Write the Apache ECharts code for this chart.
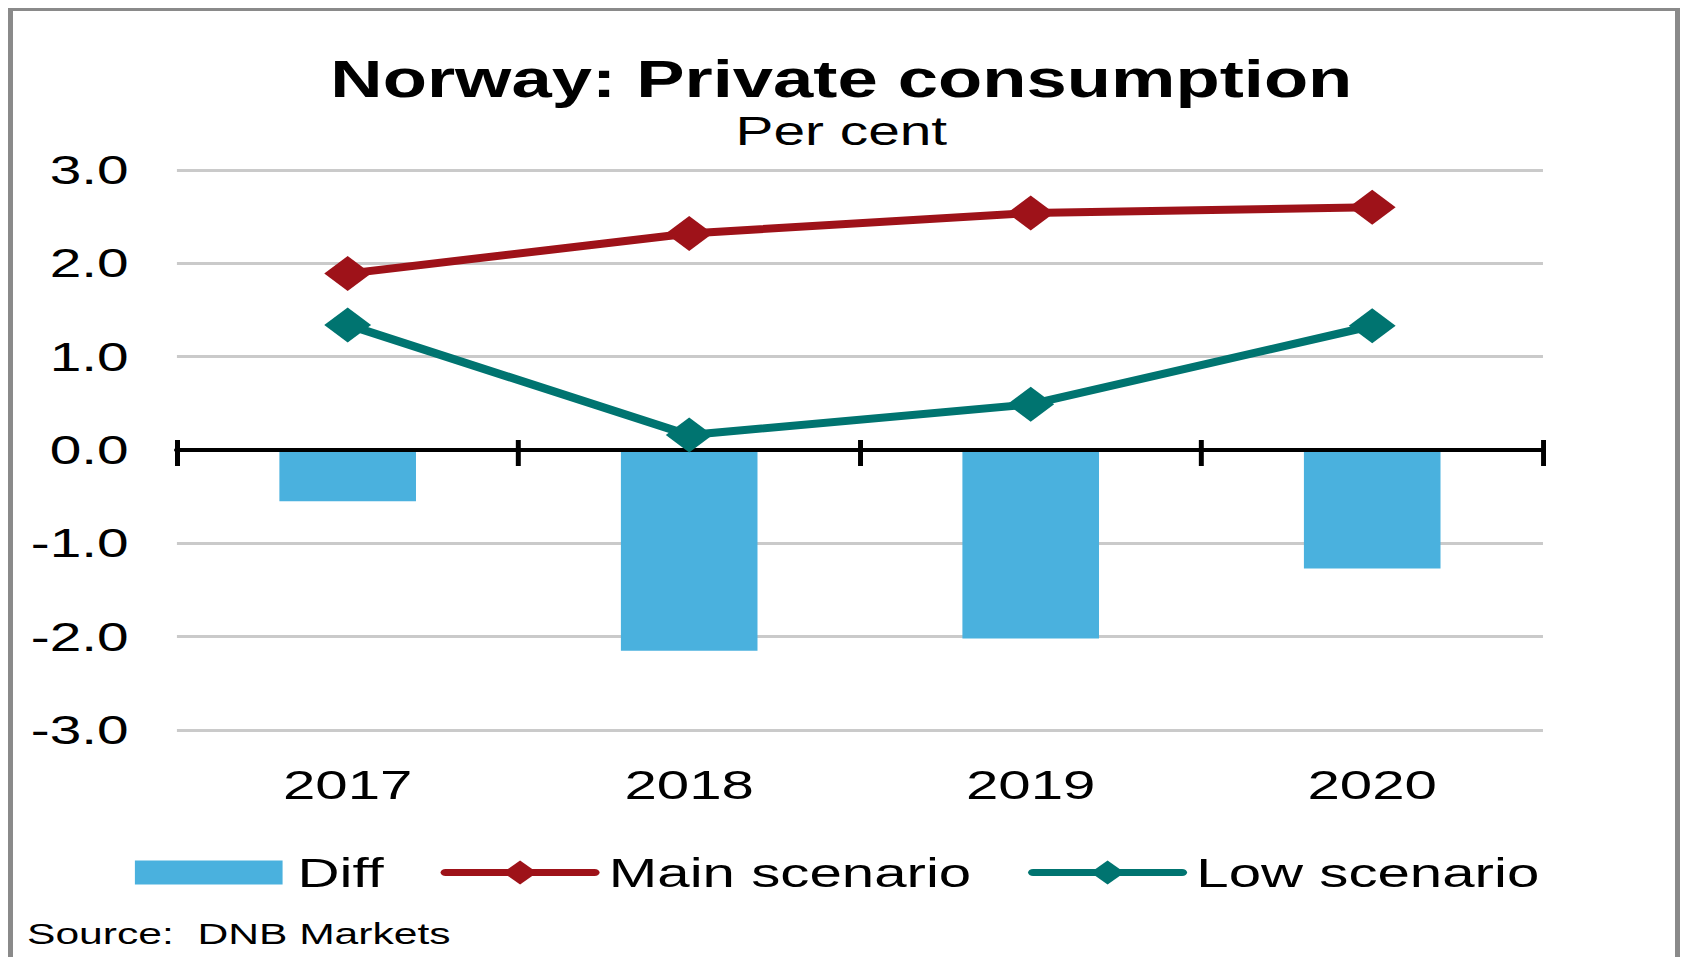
<!DOCTYPE html>
<html>
<head>
<meta charset="utf-8">
<script src="https://cdn.jsdelivr.net/npm/echarts@6/dist/echarts.min.js"></script>
<style>
    html, body { margin: 0; padding: 0; background: #fff; overflow: hidden; }
    #frame {
        position: absolute; left: 8px; top: 8px; width: 1672px; height: 1000px;
        border-left: 5px solid #8a8a8a; border-top: 3px solid #8a8a8a; border-right: 5px solid #8a8a8a;
        box-sizing: border-box;
    }
    /* the original picture is stretched sideways, so the chart is drawn narrow and scaled */
    #chart {
        position: absolute; left: 0; top: 0; width: 1185px; height: 957px;
        transform: scaleX(1.42); transform-origin: 0 0;
    }
</style>
</head>
<body>
<div id="frame"></div>
<div id="chart"></div>
<script>
const years = ['2017', '2018', '2019', '2020'];
const diff = [-0.55, -2.15, -2.02, -1.27];
const mainScenario = [1.89, 2.32, 2.54, 2.60];
const lowScenario = [1.34, 0.16, 0.49, 1.33];
const yTicks = [-3, -2, -1, 0, 1, 2, 3];

const font = 'Liberation Sans, Arial, sans-serif';

document.addEventListener('DOMContentLoaded', function () {
    const chart = echarts.init(document.getElementById('chart'), null, { renderer: 'svg' });

    const option = {
        animation: false,
        title: [
            {
                text: 'Norway: Private consumption',
                left: 'center',
                top: 49,
                textStyle: { fontFamily: font, fontSize: 51, fontWeight: 'bold', color: '#000' }
            },
            {
                text: 'Per cent',
                left: 'center',
                top: 106,
                textStyle: { fontFamily: font, fontSize: 40, fontWeight: 'normal', color: '#000' }
            }
        ],
        grid: { left: 124.6, right: 98.4, top: 170, bottom: 227 },
        legend: {
            left: 90,
            top: 847,
            itemWidth: 105,
            itemHeight: 30,
            itemGap: 40,
            lineStyle: { width: 7, cap: 'round' },
            textStyle: { fontFamily: font, fontSize: 41, color: '#000', padding: [0, 0, 0, 5] },
            data: [
                // rect 24 high inside a 30 high box, so the diamonds of the other icons can be larger
                { name: 'Diff', icon: 'path://M0,0L0,0M0,30L0,30M0,3L104,3L104,27L0,27Z' },
                { name: 'Main scenario' },
                { name: 'Low scenario' }
            ]
        },
        xAxis: [
            {
                type: 'category',
                data: years,
                position: 'bottom',
                axisLine: { show: false, onZero: false },
                axisTick: { show: false },
                axisLabel: { fontFamily: font, fontSize: 41, color: '#000', margin: 34 }
            },
            {
                type: 'category',
                data: years,
                position: 'bottom',
                z: 3,
                axisLine: { show: true, onZero: true, onZeroAxisIndex: 0, lineStyle: { color: '#000', width: 4 } },
                axisTick: { show: true, length: 16, lineStyle: { color: '#000', width: 3.5 } },
                axisLabel: { show: false }
            },
            {
                type: 'category',
                data: years,
                position: 'bottom',
                z: 3,
                axisLine: { show: false, onZero: true, onZeroAxisIndex: 0 },
                axisTick: { show: true, inside: true, length: 10, lineStyle: { color: '#000', width: 3.5 } },
                axisLabel: { show: false }
            }
        ],
        yAxis: {
            type: 'value',
            min: yTicks[0],
            max: yTicks[yTicks.length - 1],
            interval: 1,
            axisLine: { show: false },
            axisTick: { show: false },
            axisLabel: {
                fontFamily: font, fontSize: 40, color: '#000', margin: 34,
                formatter: v => v.toFixed(1)
            },
            splitLine: { lineStyle: { color: '#cacaca', width: 3 } }
        },
        series: [
            {
                name: 'Diff',
                type: 'bar',
                data: diff,
                barWidth: '40%',
                itemStyle: { color: '#4ab1de' }
            },
            {
                name: 'Main scenario',
                type: 'line',
                data: mainScenario,
                z: 5,
                symbol: 'diamond',
                symbolSize: [33, 35],
                color: '#9e1219',
                lineStyle: { width: 8, color: '#9e1219' },
                itemStyle: { color: '#9e1219' }
            },
            {
                name: 'Low scenario',
                type: 'line',
                data: lowScenario,
                z: 5,
                symbol: 'diamond',
                symbolSize: [33, 35],
                color: '#007470',
                lineStyle: { width: 8, color: '#007470' },
                itemStyle: { color: '#007470' }
            }
        ],
        graphic: [
            {
                type: 'text',
                left: 19,
                top: 919,
                style: { text: 'Source:  DNB Markets', font: '30px ' + font, fill: '#000' }
            }
        ]
    };

    chart.setOption(option);
});
</script>
</body>
</html>
